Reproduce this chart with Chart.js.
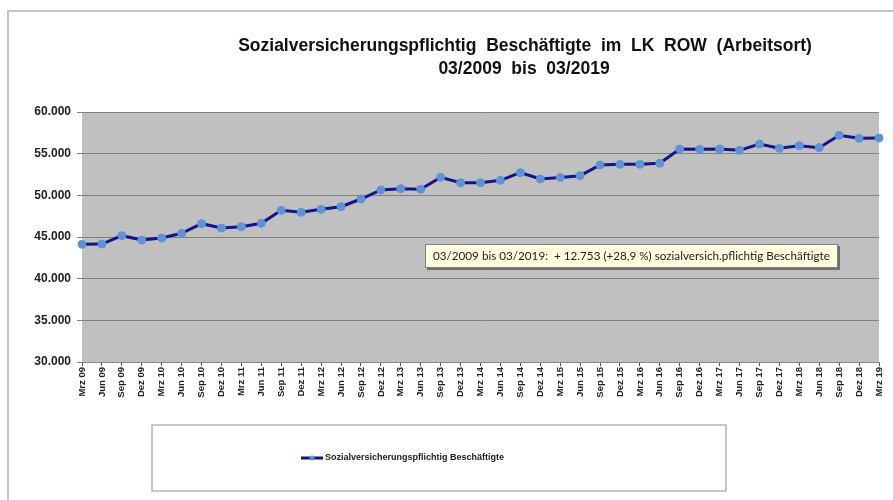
<!DOCTYPE html>
<html>
<head>
<meta charset="utf-8">
<script src="https://cdn.jsdelivr.net/npm/chart.js@4.4.1/dist/chart.umd.min.js"></script>
<style>
  body { margin: 0; background: #fff; }
  #wrap { width: 893px; height: 500px; }
</style>
</head>
<body>
<div id="wrap"><canvas id="myChart" width="893" height="500"></canvas></div>
<script>
// data
const labels = ['Mrz 09','Jun 09','Sep 09','Dez 09','Mrz 10','Jun 10','Sep 10','Dez 10',
  'Mrz 11','Jun 11','Sep 11','Dez 11','Mrz 12','Jun 12','Sep 12','Dez 12',
  'Mrz 13','Jun 13','Sep 13','Dez 13','Mrz 14','Jun 14','Sep 14','Dez 14',
  'Mrz 15','Jun 15','Sep 15','Dez 15','Mrz 16','Jun 16','Sep 16','Dez 16',
  'Mrz 17','Jun 17','Sep 17','Dez 17','Mrz 18','Jun 18','Sep 18','Dez 18','Mrz 19'];
const beschaeftigte = [44120,44150,45160,44640,44880,45440,46600,46080,
  46240,46640,48200,47960,48320,48640,49560,50640,
  50800,50720,52160,51520,51520,51800,52720,51960,
  52140,52360,53640,53720,53720,53840,55560,55520,
  55560,55400,56160,55640,55960,55720,57200,56840,56873];
const seriesName = 'Sozialversicherungspflichtig Beschäftigte';
const yMin = 30000, yMax = 60000, yStep = 5000;
const titleLines = ['Sozialversicherungspflichtig  Beschäftigte  im  LK  ROW  (Arbeitsort)', '03/2009  bis  03/2019'];
const noteText = '03/2009 bis 03/2019:  + 12.753 (+28,9 %) sozialversich.pflichtig Beschäftigte';

function fmt(v){
  return String(v).replace(/\B(?=(\d{3})+(?!\d))/g, '.');
}

//gray plot background + frame + title
const background = {
  id: 'background',
  beforeDraw(chart){
    const c = chart.ctx, a = chart.chartArea;
    c.save();
    c.fillStyle = '#c0c0c0';
    c.fillRect(a.left, a.top, a.right - a.left, a.bottom - a.top);
    c.strokeStyle = '#c4c4c4';
    c.lineWidth = 2;
    c.beginPath();
    c.moveTo(8, 500); c.lineTo(8, 11); c.lineTo(893, 11);
    c.stroke();
    c.fillStyle = '#111';
    c.font = 'bold 17.5px "Liberation Sans", Arial, sans-serif';
    c.textAlign = 'center';
    c.textBaseline = 'middle';
    c.fillText(titleLines[0], 525, 46);
    c.fillText(titleLines[1], 524, 69);
    c.restore();
  }
};

//note box and legend box
const extras = {
  id: 'extras',
  afterDraw(chart){
    const c = chart.ctx;
    c.save();
    // note
    c.fillStyle = '#707070';
    c.fillRect(427, 246, 413, 24);
    c.fillStyle = '#ffffe0';
    c.strokeStyle = '#808080';
    c.lineWidth = 1;
    c.fillRect(425, 244, 413, 24);
    c.strokeRect(425.5, 244.5, 412, 23);
    let size = 11;
    c.font = size + 'px Lato, "Open Sans", sans-serif';
    const w = c.measureText(noteText).width;
    size = size * 397 / w;
    c.font = size.toFixed(2) + 'px Lato, "Open Sans", sans-serif';
    c.fillStyle = '#222';
    c.textBaseline = 'middle';
    c.textAlign = 'left';
    c.fillText(noteText, 433, 256);

    // legend
    c.fillStyle = '#fff';
    c.fillRect(152, 425, 574, 66);
    c.strokeStyle = '#b4b4b4';
    c.lineWidth = 1.5;
    c.strokeRect(152, 425, 574, 66);
    const ds = chart.data.datasets[0];
    c.strokeStyle = ds.borderColor;
    c.lineWidth = 3;
    c.beginPath(); c.moveTo(301, 458); c.lineTo(323, 458); c.stroke();
    c.fillStyle = ds.pointBackgroundColor;
    c.beginPath(); c.arc(312, 458, 2.5, 0, Math.PI * 2); c.fill();
    c.fillStyle = '#222';
    c.font = 'bold 9px "Liberation Sans", Arial, sans-serif';
    c.fillText(ds.label, 325, 458);
    c.restore();
  }
};

const ctx = document.getElementById('myChart');

new Chart(ctx, {
  type: 'line',
  data: {
    labels: labels,
    datasets: [{
      label: seriesName,
      data: beschaeftigte,
      borderColor: '#14148a',
      borderWidth: 3,
      pointRadius: 4,
      pointBackgroundColor: '#5f92d6',
      pointBorderColor: '#5f92d6',
      pointBorderWidth: 1,
      tension: 0
    }]
  },
  options: {
    responsive: false,
    animation: false,
    layout: { padding: { left: 0, right: 14, top: 112, bottom: 0 } },
    plugins: {
      legend: { display: false },
      title: { display: false },
      tooltip: { enabled: false }
    },
    scales: {
      x: {
        offset: false,
        grid: { drawOnChartArea: false, color: '#555', tickLength: 4 },
        border: { color: '#888' },
        ticks: {
          autoSkip: false,
          maxRotation: 90,
          minRotation: 90,
          padding: 1,
          color: '#222',
          font: { family: '"Liberation Sans", Arial, sans-serif', size: 9.5, weight: 'bold' }
        },
        afterFit(scale){ scale.height = 138; }
      },
      y: {
        min: yMin,
        max: yMax,
        grid: { color: '#808080', lineWidth: 1, tickLength: 5 },
        border: { display: false },
        ticks: {
          stepSize: yStep,
          padding: 6,
          color: '#222',
          font: { family: '"Liberation Sans", Arial, sans-serif', size: 12, weight: 'bold' },
          callback: v => fmt(v)
        },
        afterFit(scale){ scale.width = 82; }
      }
    }
  },
  plugins: [background, extras]
});
</script>
</body>
</html>
